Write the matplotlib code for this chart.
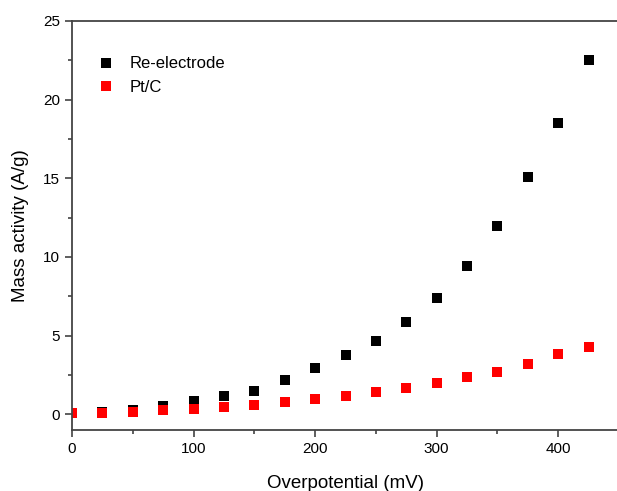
import numpy as np
import matplotlib
matplotlib.use("Agg")
from matplotlib import pyplot as plt
from matplotlib.ticker import MultipleLocator

plt.rcParams['font.family'] = ['Liberation Sans', 'DejaVu Sans']

overpotential = [0, 25, 50, 75, 100, 125, 150, 175, 200, 225, 250, 275, 300, 325, 350, 375, 400, 425]
re_electrode = [0.05, 0.15, 0.3, 0.55, 0.85, 1.15, 1.5, 2.2, 2.95, 3.75, 4.65, 5.85, 7.4, 9.4, 11.95, 15.1, 18.5, 22.5]
pt_c = [0.05, 0.1, 0.15, 0.25, 0.35, 0.45, 0.6, 0.75, 0.95, 1.15, 1.4, 1.7, 2.0, 2.35, 2.7, 3.2, 3.85, 4.3]

fig = plt.figure(figsize=(6.17, 4.91), dpi=100)
ax = fig.add_axes([72 / 617, 61 / 491, 547 / 617, 409 / 491])

ax.plot(overpotential, re_electrode, 's', color='black', ms=6.5, mew=0, label='Re-electrode')
ax.plot(overpotential, pt_c, 's', color='#ff0000', ms=6.5, mew=0, label='Pt/C')

ax.set_xlim(0, 450)
ax.set_ylim(-1, 25)
ax.xaxis.set_major_locator(MultipleLocator(100))
ax.xaxis.set_minor_locator(MultipleLocator(50))
ax.yaxis.set_major_locator(MultipleLocator(5))
ax.yaxis.set_minor_locator(MultipleLocator(2.5))
ax.tick_params(which='major', direction='out', length=5, width=1.1, labelsize=11, colors='#333333', labelcolor='black')
ax.tick_params(which='minor', direction='out', length=3, width=1.1, colors='#333333')

for side in ['left', 'bottom', 'top', 'right']:
    ax.spines[side].set_linewidth(1.3)
    ax.spines[side].set_color('#444444')

ax.set_xlabel('Overpotential (mV)', fontsize=13.5, labelpad=14)
ax.set_ylabel('Mass activity (A/g)', fontsize=13.5, labelpad=10)

ax.legend(loc='upper left', bbox_to_anchor=(0.02, 0.95), frameon=False, fontsize=12,
          handletextpad=0.9, labelspacing=0.5, handlelength=1.0)

fig.savefig('out.png', dpi=100)
